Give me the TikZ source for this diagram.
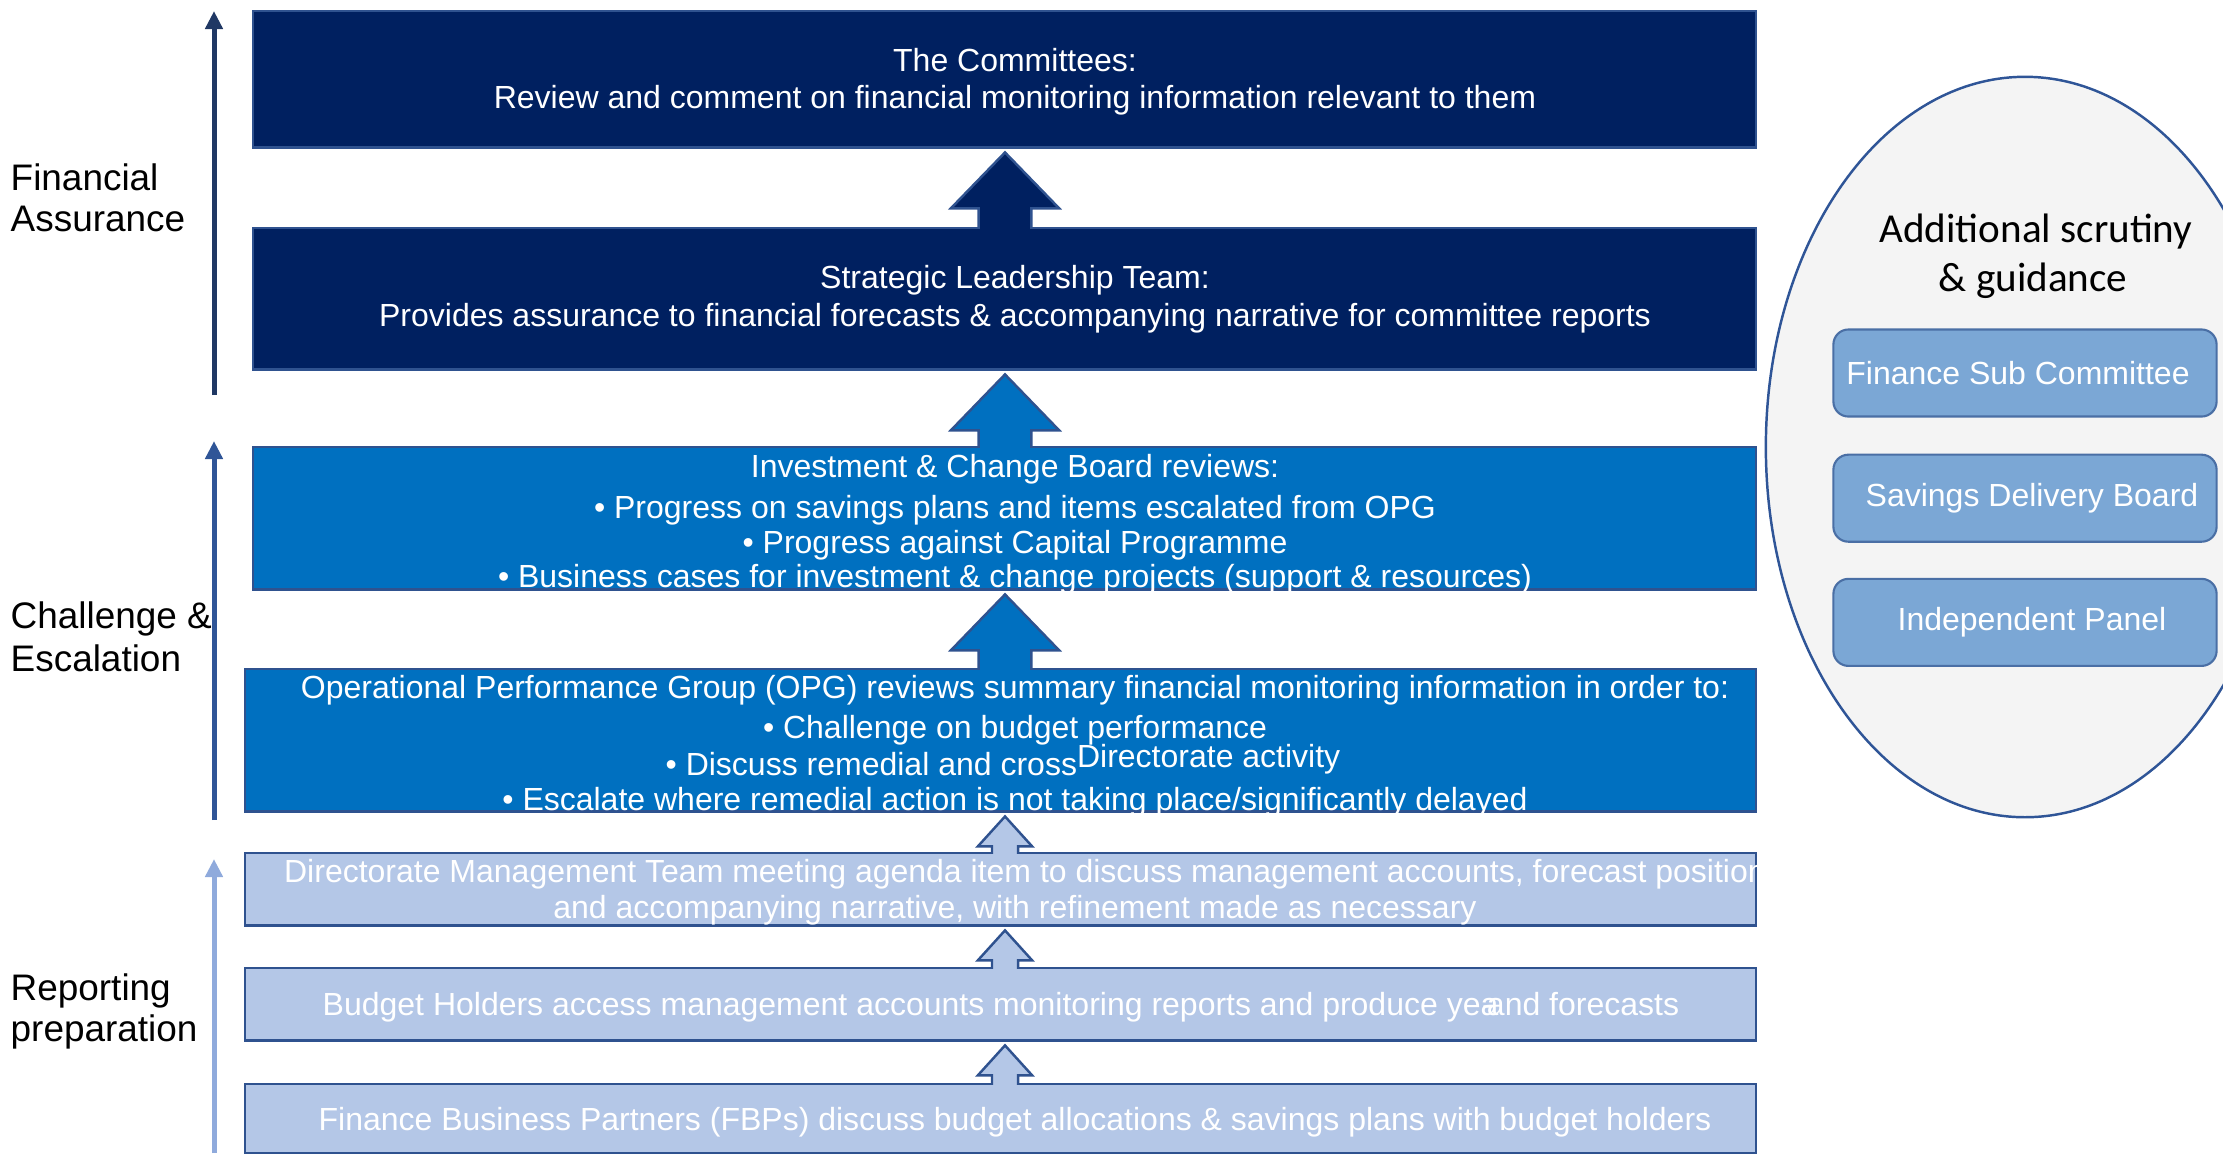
\documentclass[tikz,border=0pt]{standalone}
\usepackage{fontspec}
\setmainfont{Liberation Sans}
\newfontfamily\calibri{Carlito}
\usetikzlibrary{arrows.meta,calc,positioning,shapes.geometric}

\definecolor{navy}{HTML}{002060}
\definecolor{midblue}{HTML}{0070C0}
\definecolor{paleblue}{HTML}{B4C7E7}
\definecolor{edgeblue}{HTML}{2F528F}
\definecolor{darkline}{HTML}{203864}
\definecolor{lineblue}{HTML}{2F5597}
\definecolor{lightline}{HTML}{8FAADC}
\definecolor{ovalfill}{HTML}{F4F4F4}
\definecolor{pillfill}{HTML}{7BA7D5}
\definecolor{pilledge}{HTML}{4A6FA5}

% freccia a blocchi: nodo sotto, nodo sopra, colore, mezza testa, mezzo fusto, lunghezza testa
\newcommand{\liftarrow}[6]{%
  \filldraw[lift, fill=#3] let \p1=(spine |- #1.north), \p2=(spine |- #2.south) in
    (\x1-#5,\y1-0.5pt) -- (\x1-#5,\y2-1.1pt-#6) -- (\x1-#4,\y2-1.1pt-#6) -- (\x1,\y2-1.1pt)
    -- (\x1+#4,\y2-1.1pt-#6) -- (\x1+#5,\y2-1.1pt-#6) -- (\x1+#5,\y1-0.5pt);}

\begin{document}
\begin{tikzpicture}[x=0.01cm, y=-0.01cm,
    stagebox/.style={draw=edgeblue, line width=0.7pt, anchor=north west, inner sep=0pt},
    boxtext/.style={text=white, anchor=base, inner sep=0pt, font=\fontsize{9.1pt}{11pt}\selectfont},
    sidelabel/.style={anchor=base west, inner sep=0pt, font=\fontsize{10.5pt}{12pt}\selectfont},
    pill/.style={draw=pilledge, line width=0.6pt, fill=pillfill, rounded corners=0.15cm,
      minimum width=3.83cm, minimum height=0.87cm, inner sep=0pt, text=white,
      font=\fontsize{9.1pt}{11pt}\selectfont},
    lift/.style={draw=edgeblue, line width=0.7pt},
    phase/.style={line width=0.05cm, -{Triangle[width=0.17cm,length=0.18cm]}}]
  \useasboundingbox (0,0) rectangle (2223,1153);
  \coordinate (spine) at (1005,0);

  %ovale
  \node[ellipse, draw=lineblue, line width=0.7pt, fill=ovalfill, inner sep=0pt,
    minimum width=5.18cm, minimum height=7.4cm] (oval) at (2025,447) {};
  \node[anchor=base, inner sep=0pt, font=\calibri\fontsize{11.7pt}{14pt}\selectfont] (ttl1) at (2036,242) {Additional scrutiny};
  \node[anchor=base, inner sep=0pt, font=\calibri\fontsize{11.7pt}{14pt}\selectfont] (ttl2) at (2033,291) {\& guidance};
  \node[pill] (fsc) at (2025,373) {Finance Sub Committee\kern0.14cm};
  \node[pill, below=0.36cm of fsc] (sdb) {\kern0.14cm Savings Delivery Board};
  \node[pill, below=0.35cm of sdb] (ipl) {\kern0.14cm Independent Panel};

  %riquadri
  \node[stagebox, fill=navy, minimum width=15.02cm, minimum height=1.36cm] (comm) at (252,10) {};
  \node[stagebox, fill=navy, minimum width=15.02cm, minimum height=1.41cm] (slt) at (252,227) {};
  \node[stagebox, fill=midblue, minimum width=15.02cm, minimum height=1.42cm] (icb) at (252,446) {};
  \node[stagebox, fill=midblue, minimum width=15.10cm, minimum height=1.42cm] (opg) at (244,668) {};
  \node[stagebox, fill=paleblue, minimum width=15.10cm, minimum height=0.72cm] (dmt) at (244,852) {};
  \node[stagebox, fill=paleblue, minimum width=15.10cm, minimum height=0.72cm] (bh) at (244,967) {};
  \node[stagebox, fill=paleblue, minimum width=15.10cm, minimum height=0.69cm] (fbp) at (244,1083) {};

  %frecce
  \liftarrow{slt}{comm}{navy}{15.4pt}{7.5pt}{15.9pt}
  \liftarrow{icb}{slt}{midblue}{15.4pt}{7.5pt}{15.9pt}
  \liftarrow{opg}{icb}{midblue}{15.4pt}{7.5pt}{15.9pt}
  \liftarrow{dmt}{opg}{paleblue}{7.7pt}{3.7pt}{8.5pt}
  \liftarrow{bh}{dmt}{paleblue}{7.7pt}{3.7pt}{8.5pt}
  \liftarrow{fbp}{bh}{paleblue}{7.7pt}{3.7pt}{8.5pt}

  %testi
  \node[boxtext] (comm1) at (1015,71) {The Committees:};
  \node[boxtext] (comm2) at (1015,108) {Review and comment on financial monitoring information relevant to them};
  \node[boxtext] (slt1) at (1015,288) {Strategic Leadership Team:};
  \node[boxtext] (slt2) at (1015,326) {Provides assurance to financial forecasts \& accompanying narrative for committee reports};
  \node[boxtext] (icb1) at (1015,477) {Investment \& Change Board reviews:};
  \node[boxtext] (icb2) at (1015,518) {• Progress on savings plans and items escalated from OPG};
  \node[boxtext] (icb3) at (1015,553) {• Progress against Capital Programme};
  \node[boxtext] (icb4) at (1015,587) {• Business cases for investment \& change projects (support \& resources)};
  \node[boxtext] (opg1) at (1015,698) {Operational Performance Group (OPG) reviews summary financial monitoring information in order to:};
  \node[boxtext] (opg2) at (1015,738) {• Challenge on budget performance};
  \node[boxtext] (opg3) at (1003,775) {• Discuss remedial and cross\raisebox{2pt}{Directorate activity}};
  \node[boxtext] (opg4) at (1015,810) {• Escalate where remedial action is not taking place/significantly delayed};
  \node[boxtext] (dmt1) at (1025,882) {Directorate Management Team meeting agenda item to discuss management accounts, forecast position};
  \node[boxtext] (dmt2) at (1015,918) {and accompanying narrative, with refinement made as necessary};
  \node[boxtext] (bh1) at (1001,1015) {Budget Holders access management accounts monitoring reports and produce ye\rlap{a}\kern0.05em\rlap{-}\kern0.15em and forecasts};
  \node[boxtext] (fbp1) at (1015,1130) {Finance Business Partners (FBPs) discuss budget allocations \& savings plans with budget holders};

  %fasi
  \coordinate (fa0) at (214,395);
  \coordinate (fa1) at (214,11);
  \coordinate (ce0) at (214,820);
  \coordinate (ce1) at (214,441);
  \coordinate (rp0) at (214,1153);
  \coordinate (rp1) at (214,859);
  \draw[phase, darkline] (fa0) -- (fa1);
  \draw[phase, lineblue] (ce0) -- (ce1);
  \draw[phase, lightline] (rp0) -- (rp1);
  \node[sidelabel] (fa-a) at (10,190) {Financial};
  \node[sidelabel] (fa-b) at (10,231) {Assurance};
  \node[sidelabel] (ce-a) at (10,628) {Challenge \&};
  \node[sidelabel] (ce-b) at (10,671) {Escalation};
  \node[sidelabel] (rp-a) at (10,1000) {Reporting};
  \node[sidelabel] (rp-b) at (10,1041) {preparation};
\end{tikzpicture}
\end{document}
